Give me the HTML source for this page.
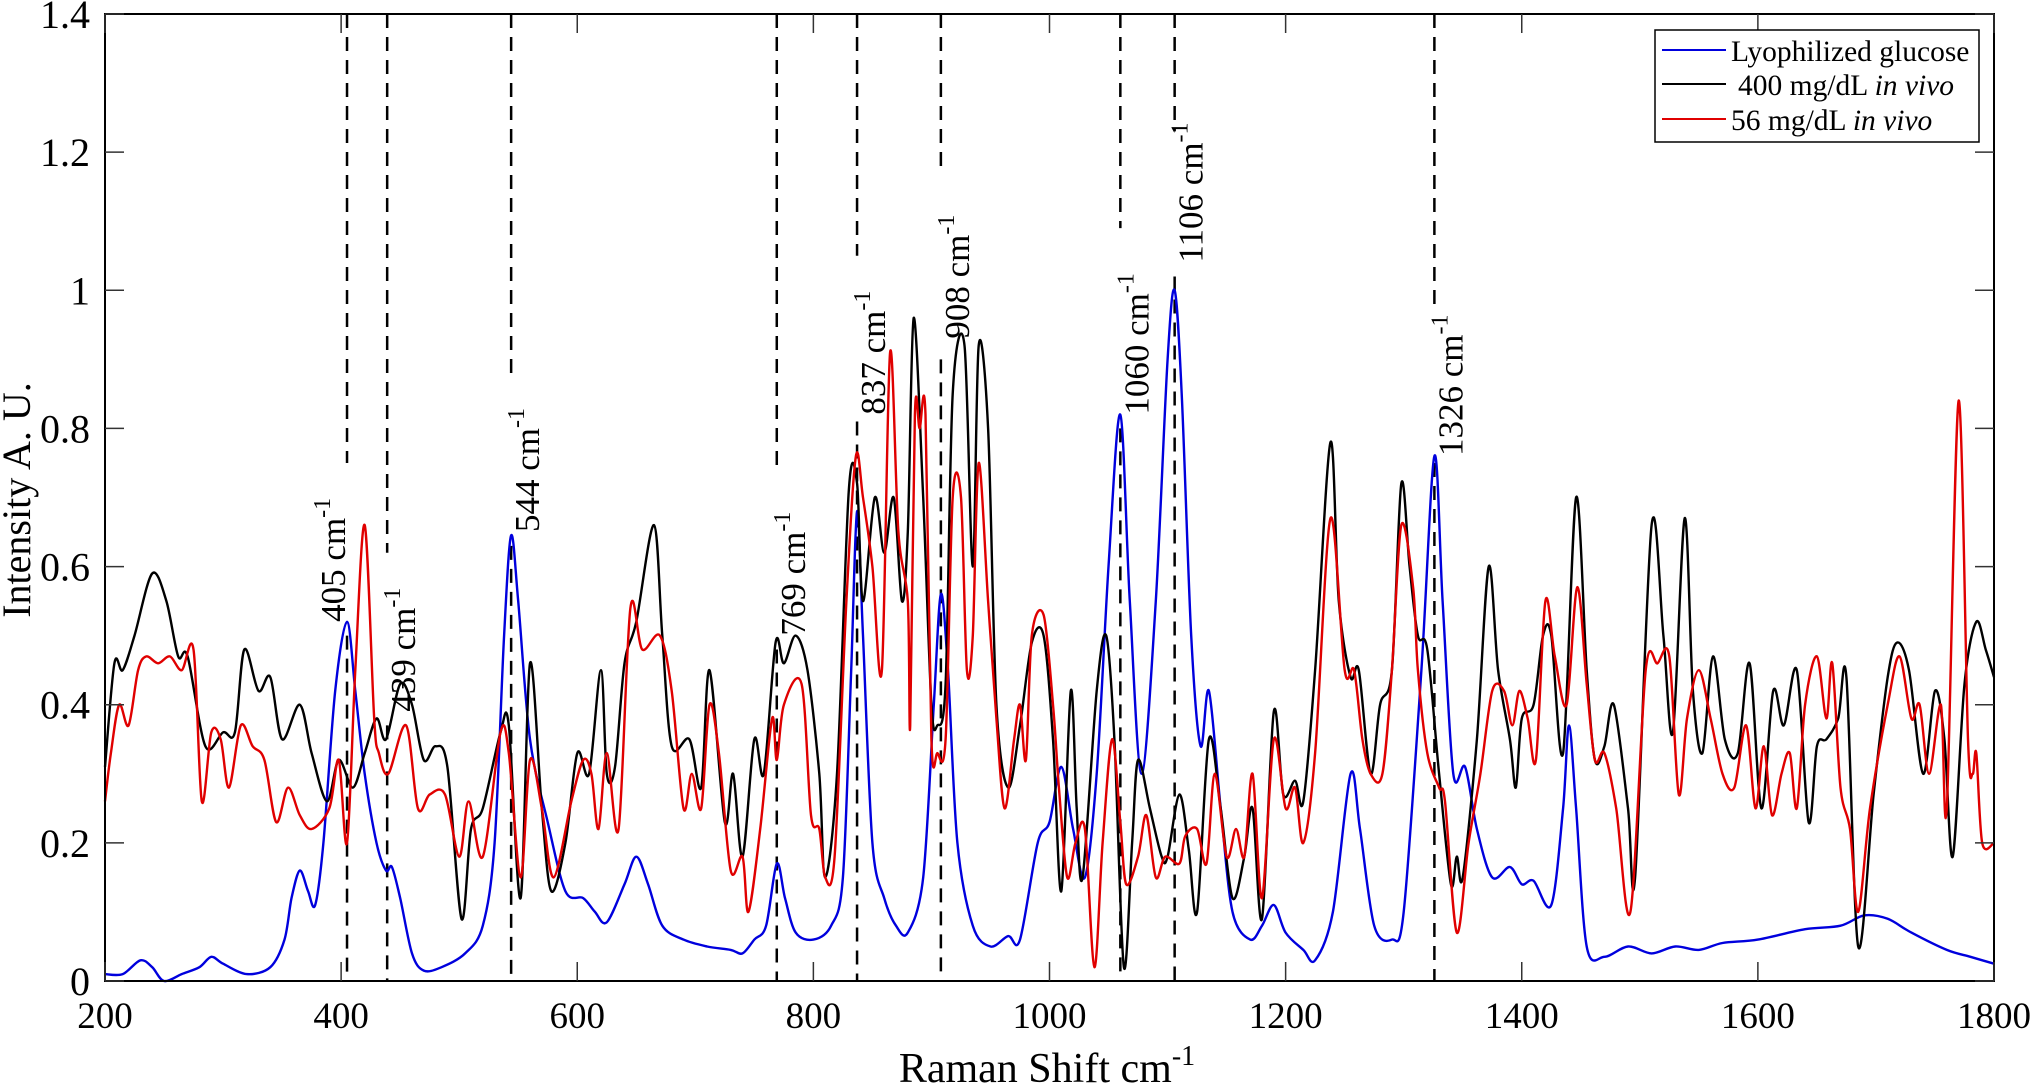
<!DOCTYPE html>
<html><head><meta charset="utf-8"><style>
html,body{margin:0;padding:0;background:#fff;}
svg{display:block;font-family:"Liberation Serif",serif;}
</style></head><body>
<svg id="chart" width="2032" height="1090" viewBox="0 0 2032 1090" xmlns="http://www.w3.org/2000/svg">
<g id="peaks"></g>
<g id="series"></g>
<g id="axes"></g>
<text transform="translate(30,500) rotate(-90)" text-anchor="middle" font-size="40">Intensity A. U.</text>
<text x="1047" y="1082" text-anchor="middle" font-size="42">Raman Shift  cm<tspan font-size="28" dy="-17">-1</tspan></text>
<g>
<rect x="1655" y="30" width="324" height="112" fill="#fff" stroke="#000" stroke-width="1.5"/>
<line x1="1662" y1="50" x2="1726" y2="50" stroke="#0000dd" stroke-width="2"/>
<text x="1731" y="61" font-size="29.5">Lyophilized glucose</text>
<line x1="1662" y1="84" x2="1726" y2="84" stroke="#000" stroke-width="2"/>
<text x="1738" y="95" font-size="29.5">400 mg/dL  <tspan font-style="italic">in vivo</tspan></text>
<line x1="1662" y1="119" x2="1726" y2="119" stroke="#e00000" stroke-width="2"/>
<text x="1731" y="130" font-size="29.5">56 mg/dL  <tspan font-style="italic">in vivo</tspan></text>
</g>
</svg>
<script>
const glucoseX=[200,215,230,240,250,265,280,290,300,320,340,352,358,365,372,378,385,395,405,412,420,430,438,443,450,460,470,485,505,520,530,538,544,550,560,575,590,605,615,625,640,650,660,672,690,710,730,740,750,760,769,776,785,800,815,825,832,837,842,850,860,870,880,893,902,908,914,922,935,950,965,975,990,1000,1010,1020,1030,1040,1050,1060,1068,1078,1090,1100,1106,1112,1120,1128,1135,1145,1155,1170,1180,1190,1200,1215,1225,1240,1255,1263,1275,1290,1300,1315,1326,1333,1342,1352,1362,1375,1390,1400,1410,1425,1435,1440,1446,1455,1470,1490,1510,1530,1550,1570,1600,1640,1670,1690,1710,1730,1760,1780,1800];
const glucoseY=[0.01,0.01,0.03,0.02,0.0,0.01,0.02,0.035,0.025,0.01,0.02,0.06,0.12,0.16,0.13,0.11,0.2,0.42,0.52,0.42,0.3,0.2,0.16,0.165,0.12,0.04,0.015,0.02,0.04,0.08,0.2,0.5,0.645,0.55,0.35,0.23,0.13,0.12,0.1,0.085,0.14,0.18,0.14,0.08,0.06,0.05,0.045,0.04,0.06,0.08,0.17,0.12,0.07,0.06,0.08,0.15,0.45,0.68,0.5,0.2,0.12,0.08,0.07,0.15,0.4,0.56,0.45,0.2,0.08,0.05,0.065,0.06,0.2,0.23,0.31,0.22,0.15,0.3,0.6,0.82,0.55,0.3,0.55,0.9,1.0,0.85,0.5,0.34,0.42,0.25,0.1,0.06,0.08,0.11,0.07,0.045,0.03,0.1,0.3,0.22,0.08,0.06,0.1,0.45,0.76,0.55,0.3,0.31,0.22,0.15,0.165,0.14,0.145,0.11,0.25,0.37,0.25,0.05,0.035,0.05,0.04,0.05,0.045,0.055,0.06,0.075,0.08,0.095,0.09,0.07,0.045,0.035,0.025];
const vivo400X=[200,208,215,225,240,252,262,270,285,300,310,318,330,340,350,365,375,388,398,410,420,430,438,450,460,470,480,490,502,510,520,535,542,552,560,570,578,590,600,610,620,625,632,640,650,665,672,680,695,705,712,725,732,740,750,758,768,775,785,795,805,810,820,830,837,842,852,860,868,875,880,885,893,900,905,912,918,928,935,940,948,955,965,975,985,995,1003,1010,1018,1023,1028,1040,1048,1055,1063,1070,1075,1085,1095,1100,1110,1118,1125,1135,1145,1155,1165,1172,1180,1190,1198,1208,1215,1225,1238,1245,1255,1262,1272,1280,1290,1298,1305,1312,1320,1330,1340,1345,1350,1362,1372,1380,1390,1395,1400,1410,1418,1425,1435,1446,1455,1462,1470,1478,1490,1496,1510,1520,1528,1538,1545,1553,1562,1572,1583,1593,1603,1613,1622,1633,1643,1650,1658,1668,1675,1685,1698,1710,1718,1728,1740,1750,1758,1765,1775,1785,1793,1800];
const vivo400Y=[0.31,0.46,0.45,0.5,0.59,0.55,0.47,0.47,0.34,0.36,0.36,0.48,0.42,0.44,0.35,0.4,0.33,0.26,0.32,0.28,0.33,0.38,0.35,0.43,0.4,0.32,0.34,0.31,0.09,0.22,0.25,0.36,0.37,0.12,0.46,0.25,0.13,0.2,0.33,0.3,0.45,0.3,0.31,0.46,0.52,0.66,0.5,0.34,0.35,0.28,0.45,0.23,0.3,0.18,0.35,0.3,0.49,0.46,0.5,0.45,0.3,0.15,0.3,0.71,0.72,0.55,0.7,0.62,0.7,0.55,0.65,0.96,0.7,0.4,0.37,0.43,0.85,0.92,0.6,0.92,0.8,0.4,0.28,0.37,0.49,0.5,0.35,0.13,0.42,0.25,0.15,0.42,0.5,0.35,0.02,0.2,0.32,0.25,0.18,0.18,0.27,0.19,0.1,0.35,0.25,0.12,0.18,0.25,0.09,0.39,0.27,0.29,0.26,0.45,0.78,0.55,0.44,0.45,0.3,0.4,0.45,0.72,0.6,0.5,0.48,0.3,0.14,0.18,0.15,0.35,0.6,0.45,0.35,0.28,0.38,0.4,0.5,0.5,0.33,0.7,0.45,0.32,0.34,0.4,0.25,0.15,0.66,0.5,0.36,0.67,0.42,0.33,0.47,0.35,0.33,0.46,0.25,0.42,0.37,0.45,0.23,0.34,0.35,0.38,0.44,0.05,0.27,0.44,0.49,0.45,0.3,0.42,0.35,0.18,0.43,0.52,0.48,0.44];
const vivo56X=[200,205,212,220,228,235,245,255,265,275,282,290,298,305,315,325,335,345,355,365,375,390,398,405,412,420,428,432,440,455,465,475,488,500,508,520,535,542,552,560,570,580,595,605,612,618,625,635,645,655,670,680,690,697,705,712,720,730,740,745,755,765,769,775,790,798,805,810,818,828,836,842,850,858,865,872,880,882,886,890,895,900,905,912,918,925,930,935,940,948,955,962,970,975,980,985,995,1003,1008,1015,1022,1030,1038,1045,1053,1060,1065,1075,1082,1090,1098,1110,1115,1125,1133,1140,1150,1158,1165,1172,1180,1190,1200,1208,1215,1225,1238,1250,1258,1265,1272,1282,1290,1298,1308,1312,1320,1330,1335,1345,1355,1365,1375,1385,1392,1398,1405,1412,1420,1428,1438,1447,1455,1462,1470,1480,1492,1505,1515,1525,1533,1540,1550,1560,1570,1580,1590,1598,1605,1612,1620,1627,1633,1640,1650,1658,1663,1670,1678,1685,1695,1710,1720,1730,1737,1745,1755,1760,1770,1778,1782,1785,1790,1800];
const vivo56Y=[0.26,0.33,0.4,0.37,0.45,0.47,0.46,0.47,0.45,0.48,0.26,0.36,0.35,0.28,0.37,0.34,0.32,0.23,0.28,0.24,0.22,0.25,0.32,0.2,0.45,0.66,0.38,0.33,0.3,0.37,0.25,0.27,0.27,0.18,0.26,0.18,0.36,0.33,0.15,0.32,0.25,0.15,0.26,0.32,0.3,0.22,0.33,0.22,0.54,0.48,0.5,0.42,0.25,0.3,0.25,0.4,0.33,0.16,0.18,0.1,0.22,0.38,0.32,0.4,0.43,0.24,0.22,0.15,0.18,0.55,0.76,0.7,0.6,0.45,0.91,0.65,0.55,0.37,0.82,0.8,0.82,0.35,0.33,0.35,0.7,0.7,0.45,0.5,0.75,0.55,0.38,0.25,0.35,0.4,0.32,0.5,0.53,0.4,0.28,0.15,0.2,0.22,0.02,0.2,0.35,0.23,0.14,0.18,0.24,0.15,0.18,0.17,0.21,0.22,0.17,0.3,0.18,0.22,0.18,0.3,0.12,0.35,0.25,0.28,0.2,0.33,0.67,0.45,0.45,0.35,0.3,0.3,0.45,0.66,0.57,0.45,0.33,0.28,0.26,0.07,0.2,0.3,0.42,0.42,0.37,0.42,0.38,0.32,0.55,0.47,0.4,0.57,0.43,0.32,0.33,0.25,0.1,0.45,0.46,0.47,0.27,0.38,0.45,0.38,0.3,0.28,0.37,0.25,0.34,0.24,0.3,0.33,0.25,0.4,0.47,0.38,0.46,0.28,0.22,0.1,0.25,0.4,0.47,0.38,0.4,0.3,0.4,0.25,0.84,0.35,0.3,0.33,0.2,0.2];
const peakPos=[405,439,544,769,837,908,1060,1106,1326];
const peakUpperEnd=[0.75,0.62,0.87,0.74,1.05,1.17,1.09,1.23,0.97];
const peakLabelBottom=[0.52,0.39,0.65,0.5,0.82,0.93,0.82,1.04,0.76];
const peakLowerStart=[0.5,0.37,0.63,0.48,0.81,0.9,0.8,1.02,0.75];
const xTicks=[200,400,600,800,1000,1200,1400,1600,1800];
const yTicks=[0,0.2,0.4,0.6,0.8,1,1.2,1.4];
const yTickLabels=["0","0.2","0.4","0.6","0.8","1","1.2","1.4"];

const L=105,R=1994,T=14,B=981;
const xs=v=>L+(v-200)/1600*(R-L);
const ys=v=>B-v/1.4*(B-T);
const NS="http://www.w3.org/2000/svg";
function mk(tag,parent){const e=document.createElementNS(NS,tag);parent.appendChild(e);return e;}

function smoothPath(X,Y){
  const P=X.map((x,i)=>[xs(x),ys(Y[i])]);
  let d='M'+P[0][0].toFixed(1)+','+P[0][1].toFixed(1);
  for(let i=0;i<P.length-1;i++){
    const p0=P[Math.max(0,i-1)],p1=P[i],p2=P[i+1],p3=P[Math.min(P.length-1,i+2)];
    const k=0.16;
    const c1=[p1[0]+(p2[0]-p0[0])*k,p1[1]+(p2[1]-p0[1])*k];
    const c2=[p2[0]-(p3[0]-p1[0])*k,p2[1]-(p3[1]-p1[1])*k];
    d+=' C'+c1[0].toFixed(1)+','+c1[1].toFixed(1)+' '+c2[0].toFixed(1)+','+c2[1].toFixed(1)+' '+p2[0].toFixed(1)+','+p2[1].toFixed(1);
  }
  return d;
}

const sg=document.getElementById('series');
function drawSeries(X,Y,color,name){
  const p=mk('path',sg);
  p.setAttribute('d',smoothPath(X,Y));
  p.setAttribute('fill','none');p.setAttribute('stroke',color);p.setAttribute('stroke-width','2.4');
  p.setAttribute('stroke-linejoin','round');
  
  
}
drawSeries(glucoseX,glucoseY,'#0000dd','series-lyophilized-glucose');
drawSeries(vivo400X,vivo400Y,'#000000','series-400-mg-dl');
drawSeries(vivo56X,vivo56Y,'#e00000','series-56-mg-dl');

const pg=document.getElementById('peaks');
peakPos.forEach((p,i)=>{
  const x=xs(p);
  const l1=mk('line',pg);
  l1.setAttribute('x1',x);l1.setAttribute('x2',x);l1.setAttribute('y1',T);l1.setAttribute('y2',ys(peakUpperEnd[i]));
  l1.setAttribute('stroke','#000');l1.setAttribute('stroke-width','2.5');l1.setAttribute('stroke-dasharray','14,9');
  
  
  const l2=mk('line',pg);
  l2.setAttribute('x1',x);l2.setAttribute('x2',x);l2.setAttribute('y1',ys(peakLowerStart[i]));l2.setAttribute('y2',B);
  l2.setAttribute('stroke','#000');l2.setAttribute('stroke-width','2.5');l2.setAttribute('stroke-dasharray','14,9');
  
  
  const t=mk('text',pg);
  const bx= i===0 ? x-2 : x+28;
  t.setAttribute('transform','translate('+bx+','+ys(peakLabelBottom[i])+') rotate(-90)');
  t.setAttribute('font-size','35');
  
  
  const s1=mk('tspan',t);s1.textContent=p+' cm';
  const s2=mk('tspan',t);s2.textContent='-1';s2.setAttribute('font-size','24');s2.setAttribute('dy','-15');
});

const ag=document.getElementById('axes');
const fr=mk('rect',ag);
fr.setAttribute('x',L);fr.setAttribute('y',T);fr.setAttribute('width',R-L);fr.setAttribute('height',B-T);
fr.setAttribute('fill','none');fr.setAttribute('stroke','#000');fr.setAttribute('stroke-width','2');


xTicks.forEach(v=>{
  const x=xs(v);
  [[B,B-19],[T,T+19]].forEach(([a,b])=>{
    const tk=mk('line',ag);tk.setAttribute('x1',x);tk.setAttribute('x2',x);tk.setAttribute('y1',a);tk.setAttribute('y2',b);
    tk.setAttribute('stroke','#333');tk.setAttribute('stroke-width','1.5');
    
    
  });
  const t=mk('text',ag);t.setAttribute('x',x);t.setAttribute('y',1028);t.setAttribute('text-anchor','middle');t.setAttribute('font-size','37');
  t.textContent=v;
  
  
});
yTicks.forEach((v,i)=>{
  const y=ys(v);
  [[L,L+19],[R,R-19]].forEach(([a,b])=>{
    const tk=mk('line',ag);tk.setAttribute('x1',a);tk.setAttribute('x2',b);tk.setAttribute('y1',y);tk.setAttribute('y2',y);
    tk.setAttribute('stroke','#333');tk.setAttribute('stroke-width','1.5');
    
    
  });
  const t=mk('text',ag);t.setAttribute('x',90);t.setAttribute('y',y+14);t.setAttribute('text-anchor','end');t.setAttribute('font-size','40');
  t.textContent=yTickLabels[i];
  
  
});
</script>
</body></html>
